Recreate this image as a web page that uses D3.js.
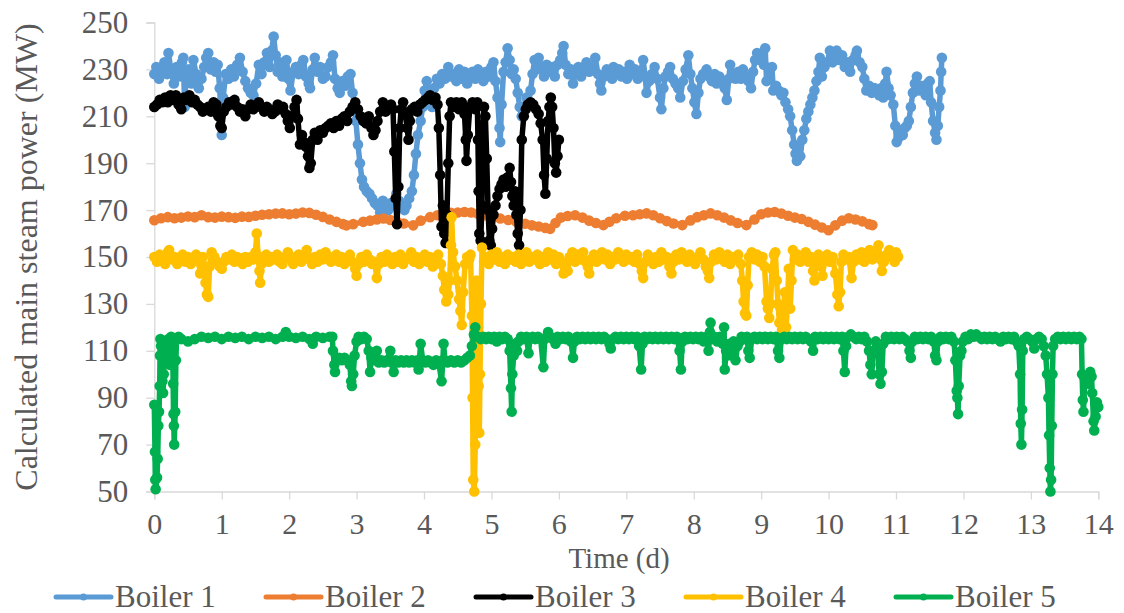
<!DOCTYPE html>
<html>
<head>
<meta charset="utf-8">
<script src="https://cdn.jsdelivr.net/npm/d3@7/dist/d3.min.js"></script>
<style>
  @font-face { font-family: "ChartSerif"; src: local("Liberation Serif"), local("LiberationSerif"), local("Liberation Serif Regular"), local("LiberationSerif-Regular"); }
</style>
</head>
<body style="margin:0;background:#fff">
<svg id="chart" width="1124" height="613"></svg>
<script>
// tick labels
const xTicks = [0, 1, 2, 3, 4, 5, 6, 7, 8, 9, 10, 11, 12, 13, 14];
const yTicks = [50, 70, 90, 110, 130, 150, 170, 190, 210, 230, 250];
const seriesNames = ['Boiler 1', 'Boiler 2', 'Boiler 3', 'Boiler 4', 'Boiler 5'];

// [time (d), power (MW)]
const boiler1 = [[0,228],[0.03,231],[0.07,226],[0.11,230],[0.15,233],[0.19,228],[0.21,237],[0.25,229],[0.29,224],[0.33,231],[0.37,227],[0.41,233],[0.43,235],[0.45,214],[0.47,226],[0.51,230],[0.55,224],[0.58,234],[0.62,228],[0.66,222],[0.70,226],[0.74,231],[0.77,235],[0.80,237],[0.84,230],[0.88,233],[0.91,229],[0.94,232],[0.97,222],[1.0,202],[1.02,218],[1.06,228],[1.10,226],[1.14,230],[1.18,227],[1.23,232],[1.27,235],[1.31,229],[1.35,225],[1.39,222],[1.43,220],[1.47,219],[1.51,224],[1.55,232],[1.59,228],[1.63,233],[1.67,237],[1.71,231],[1.74,238],[1.77,244],[1.80,236],[1.83,229],[1.86,233],[1.90,227],[1.93,231],[1.96,234],[1.99,226],[2.02,221],[2.06,229],[2.10,231],[2.14,228],[2.18,232],[2.21,234],[2.25,227],[2.29,224],[2.31,222],[2.35,230],[2.38,235],[2.42,229],[2.46,231],[2.50,226],[2.54,227],[2.58,231],[2.62,233],[2.65,236],[2.68,226],[2.72,222],[2.75,220],[2.79,225],[2.83,223],[2.87,227],[2.91,228],[2.94,220],[2.97,215],[2.99,208],[3.02,198],[3.05,190],[3.08,183],[3.11,180],[3.15,178],[3.19,177],[3.23,175],[3.27,173],[3.31,172],[3.35,169],[3.39,174],[3.43,171],[3.47,170],[3.51,173],[3.55,172],[3.59,177],[3.63,174],[3.67,172],[3.71,170],[3.74,172],[3.78,175],[3.82,178],[3.85,185],[3.88,194],[3.91,202],[3.95,208],[3.98,214],[4.01,221],[4.04,225],[4.08,219],[4.12,214],[4.15,222],[4.19,226],[4.23,224],[4.27,228],[4.31,226],[4.36,231],[4.40,227],[4.44,228],[4.48,225],[4.52,230],[4.56,226],[4.60,229],[4.64,224],[4.68,228],[4.72,229],[4.76,226],[4.80,230],[4.84,227],[4.88,225],[4.92,229],[4.96,227],[5.00,231],[5.03,233],[5.06,225],[5.09,218],[5.12,205],[5.13,199],[5.15,215],[5.18,229],[5.21,233],[5.24,239],[5.27,234],[5.30,228],[5.33,230],[5.36,226],[5.39,220],[5.42,214],[5.45,210],[5.48,214],[5.52,218],[5.55,216],[5.58,221],[5.61,228],[5.64,234],[5.67,230],[5.70,235],[5.74,231],[5.78,227],[5.82,232],[5.86,229],[5.90,231],[5.94,227],[5.98,232],[6.02,234],[6.05,237],[6.07,240],[6.10,232],[6.14,228],[6.18,230],[6.21,224],[6.25,229],[6.29,231],[6.33,227],[6.37,230],[6.41,233],[6.45,229],[6.50,231],[6.54,235],[6.58,228],[6.61,224],[6.63,221],[6.67,227],[6.71,230],[6.75,228],[6.79,226],[6.81,231],[6.85,228],[6.89,230],[6.93,227],[6.97,229],[7.01,226],[7.05,232],[7.09,228],[7.13,230],[7.17,226],[7.21,229],[7.25,234],[7.28,227],[7.30,220],[7.34,225],[7.38,228],[7.42,231],[7.46,226],[7.50,218],[7.52,213],[7.55,222],[7.58,227],[7.62,229],[7.65,231],[7.69,226],[7.73,224],[7.77,222],[7.80,218],[7.84,225],[7.88,230],[7.92,236],[7.95,228],[7.98,222],[8.01,216],[8.04,211],[8.07,220],[8.10,226],[8.14,228],[8.19,230],[8.23,227],[8.27,225],[8.31,228],[8.34,224],[8.38,227],[8.42,225],[8.46,222],[8.49,217],[8.52,226],[8.54,232],[8.58,228],[8.62,226],[8.66,229],[8.70,226],[8.73,230],[8.77,227],[8.81,225],[8.85,222],[8.88,229],[8.91,234],[8.94,237],[8.98,234],[9.01,236],[9.04,232],[9.06,239],[9.08,225],[9.12,229],[9.16,231],[9.18,221],[9.22,223],[9.26,221],[9.30,219],[9.33,220],[9.36,216],[9.40,213],[9.43,210],[9.46,204],[9.49,198],[9.51,194],[9.53,191],[9.55,196],[9.58,193],[9.61,200],[9.64,204],[9.67,209],[9.70,212],[9.73,215],[9.76,218],[9.79,221],[9.82,225],[9.85,229],[9.87,235],[9.90,227],[9.94,231],[9.98,233],[10.02,238],[10.06,233],[10.10,236],[10.12,238],[10.16,234],[10.20,236],[10.24,231],[10.28,233],[10.32,229],[10.36,234],[10.40,236],[10.42,238],[10.46,233],[10.50,231],[10.53,226],[10.56,221],[10.60,223],[10.64,220],[10.68,222],[10.71,221],[10.75,219],[10.78,222],[10.81,218],[10.84,224],[10.86,229],[10.89,222],[10.92,219],[10.96,215],[10.99,206],[11.01,199],[11.04,201],[11.06,203],[11.10,202],[11.13,205],[11.16,206],[11.19,208],[11.22,214],[11.25,220],[11.28,224],[11.31,227],[11.34,221],[11.37,223],[11.40,222],[11.44,219],[11.47,224],[11.50,225],[11.52,216],[11.55,208],[11.58,203],[11.60,200],[11.62,206],[11.64,214],[11.66,221],[11.67,229],[11.68,235]];

const boiler2 = [[0,165.7],[0.1,166.5],[0.2,167],[0.3,166.5],[0.4,166.8],[0.5,167.3],[0.6,167],[0.7,167.8],[0.8,167],[0.9,166.8],[1.0,167.2],[1.1,167],[1.2,166.7],[1.3,167.2],[1.4,167.1],[1.5,167.6],[1.6,168],[1.7,168.2],[1.8,168.5],[1.9,168.6],[2.0,168.2],[2.1,168.5],[2.2,169],[2.3,168.8],[2.4,168],[2.5,167.1],[2.6,166],[2.7,165],[2.8,164],[2.85,163.5],[2.95,164],[3.1,165],[3.2,165.5],[3.3,166],[3.4,166.4],[3.5,165.8],[3.6,165],[3.7,164.3],[3.84,163.5],[3.95,165.5],[4.09,167],[4.2,167.8],[4.3,168.5],[4.4,168.8],[4.5,169],[4.6,169.2],[4.7,169],[4.8,168.4],[4.9,167.8],[5.0,167.2],[5.13,166.4],[5.25,165.8],[5.37,165],[5.5,164.2],[5.6,163.5],[5.7,163],[5.8,162.4],[5.87,162],[5.95,164.5],[6.03,166.8],[6.13,167.5],[6.24,167.8],[6.35,166.8],[6.45,165.5],[6.55,164.5],[6.66,163.6],[6.75,165],[6.85,166.5],[6.98,167.6],[7.1,167.8],[7.2,168.2],[7.30,168.6],[7.4,167.8],[7.5,166.5],[7.6,165.3],[7.7,164.3],[7.83,163.6],[7.95,165.6],[8.05,167],[8.15,167.8],[8.25,168.6],[8.35,167.8],[8.45,166.8],[8.55,165.6],[8.65,164.5],[8.78,163.6],[8.9,166],[9.0,168.2],[9.1,169],[9.2,169.2],[9.3,168.5],[9.4,167.6],[9.5,166.8],[9.6,166.2],[9.7,165],[9.8,163.8],[9.9,162.6],[10.0,161.4],[10.1,163.5],[10.2,165.5],[10.3,166.5],[10.4,166],[10.5,165.2],[10.6,164],[10.65,163.6]];

const boiler3 = [[0,214],[0.04,215],[0.08,217],[0.12,216],[0.16,218],[0.20,216],[0.24,219],[0.28,217],[0.32,219],[0.36,215],[0.40,213],[0.44,218],[0.48,217],[0.52,219],[0.56,216],[0.60,217],[0.64,215],[0.68,214],[0.72,212],[0.76,213],[0.80,214],[0.84,212],[0.88,216],[0.92,215],[0.95,210],[0.98,206],[1.00,205],[1.03,212],[1.07,214],[1.11,216],[1.15,215],[1.19,217],[1.23,214],[1.27,212],[1.31,213],[1.35,210],[1.39,213],[1.43,215],[1.47,213],[1.51,214],[1.55,216],[1.59,214],[1.63,212],[1.67,214],[1.71,213],[1.75,211],[1.79,212],[1.83,215],[1.87,213],[1.91,214],[1.95,211],[1.98,208],[2.01,205],[2.04,210],[2.08,214],[2.11,217],[2.13,209],[2.16,198],[2.19,202],[2.22,199],[2.25,197],[2.28,193],[2.30,188],[2.32,190],[2.35,200],[2.38,203],[2.42,200],[2.46,204],[2.50,203],[2.54,205],[2.58,206],[2.62,207],[2.66,205],[2.70,208],[2.74,206],[2.78,209],[2.82,210],[2.86,208],[2.90,212],[2.94,214],[2.98,216],[3.02,213],[3.06,210],[3.10,208],[3.14,207],[3.18,210],[3.22,205],[3.25,202],[3.28,204],[3.31,208],[3.35,212],[3.39,216],[3.43,212],[3.47,214],[3.51,215],[3.54,213],[3.56,195],[3.58,175],[3.60,164],[3.62,180],[3.64,205],[3.66,213],[3.69,216],[3.72,211],[3.75,205],[3.77,200],[3.79,208],[3.82,213],[3.86,214],[3.90,212],[3.94,215],[3.98,216],[4.02,217],[4.06,218],[4.09,219],[4.13,217],[4.17,218],[4.20,215],[4.22,205],[4.24,185],[4.26,163],[4.28,172],[4.30,160],[4.32,156],[4.34,168],[4.36,190],[4.38,210],[4.40,216],[4.44,214],[4.48,216],[4.52,213],[4.56,216],[4.60,211],[4.62,200],[4.63,191],[4.65,202],[4.68,214],[4.72,216],[4.76,213],[4.79,216],[4.80,200],[4.81,178],[4.82,160],[4.84,157],[4.86,172],[4.87,205],[4.89,214],[4.91,210],[4.93,192],[4.95,170],[4.97,157],[4.99,155],[5.01,162],[5.03,168],[5.06,172],[5.09,176],[5.12,179],[5.15,181],[5.18,183],[5.21,180],[5.24,184],[5.27,188],[5.29,182],[5.31,176],[5.33,172],[5.35,178],[5.37,168],[5.39,160],[5.41,155],[5.43,170],[5.45,200],[5.48,210],[5.51,213],[5.54,215],[5.58,216],[5.62,215],[5.66,213],[5.70,211],[5.73,207],[5.76,200],[5.78,185],[5.80,177],[5.82,192],[5.84,208],[5.86,214],[5.88,218],[5.90,214],[5.92,205],[5.94,190],[5.96,186],[5.98,193],[6.00,200]];

const boiler4 = [[0,150],[0.04,148],[0.08,151],[0.12,149],[0.16,147],[0.20,152],[0.22,153],[0.26,149],[0.30,150],[0.34,147],[0.38,149],[0.42,151],[0.46,148],[0.50,150],[0.54,147],[0.58,149],[0.62,151],[0.66,148],[0.68,143],[0.70,147],[0.72,150],[0.74,146],[0.76,139],[0.78,134],[0.80,133],[0.82,146],[0.85,152],[0.89,150],[0.93,148],[0.97,146],[1.00,145],[1.03,148],[1.07,150],[1.11,149],[1.15,151],[1.19,148],[1.23,150],[1.27,149],[1.31,147],[1.35,150],[1.39,148],[1.43,150],[1.47,149],[1.50,152],[1.52,160],[1.54,150],[1.56,144],[1.57,139],[1.59,147],[1.62,150],[1.66,151],[1.70,148],[1.74,150],[1.78,149],[1.82,151],[1.86,148],[1.90,147],[1.94,150],[1.98,152],[2.02,149],[2.06,147],[2.10,150],[2.14,151],[2.18,148],[2.22,150],[2.26,153],[2.30,149],[2.34,147],[2.38,150],[2.42,148],[2.46,151],[2.50,149],[2.54,152],[2.58,150],[2.62,148],[2.66,150],[2.70,151],[2.74,148],[2.78,150],[2.82,147],[2.86,149],[2.90,151],[2.94,148],[2.98,145],[3.00,142],[3.03,147],[3.07,150],[3.11,148],[3.15,151],[3.19,149],[3.23,147],[3.27,148],[3.30,141],[3.33,147],[3.37,150],[3.41,148],[3.45,151],[3.49,149],[3.53,147],[3.57,150],[3.61,148],[3.65,151],[3.69,147],[3.73,149],[3.77,150],[3.81,152],[3.85,148],[3.89,150],[3.93,147],[3.97,149],[4.01,151],[4.05,148],[4.09,150],[4.13,146],[4.17,149],[4.21,151],[4.25,147],[4.28,142],[4.30,136],[4.33,131],[4.36,134],[4.38,140],[4.40,155],[4.41,167],[4.43,152],[4.46,146],[4.49,140],[4.52,132],[4.54,127],[4.56,121],[4.58,135],[4.61,147],[4.64,150],[4.67,149],[4.69,151],[4.71,125],[4.72,90],[4.73,55],[4.745,50],[4.76,70],[4.77,110],[4.78,140],[4.80,120],[4.81,95],[4.82,75],[4.83,100],[4.845,130],[4.86,154],[4.89,148],[4.92,150],[4.96,147],[5.00,151],[5.04,149],[5.08,152],[5.12,148],[5.16,150],[5.20,147],[5.24,151],[5.28,149],[5.32,150],[5.36,148],[5.40,151],[5.44,147],[5.48,150],[5.52,152],[5.56,148],[5.60,150],[5.64,149],[5.68,151],[5.72,147],[5.76,150],[5.80,148],[5.84,152],[5.88,149],[5.92,151],[5.96,147],[6.00,150],[6.04,148],[6.07,143],[6.10,146],[6.13,144],[6.16,150],[6.20,152],[6.24,148],[6.28,151],[6.32,149],[6.36,152],[6.40,148],[6.43,146],[6.45,143],[6.48,149],[6.52,151],[6.56,148],[6.60,150],[6.64,152],[6.68,149],[6.72,151],[6.76,147],[6.80,150],[6.84,149],[6.88,152],[6.92,150],[6.96,148],[7.00,151],[7.04,149],[7.08,150],[7.12,148],[7.16,151],[7.20,147],[7.23,144],[7.25,141],[7.28,148],[7.32,151],[7.36,149],[7.40,147],[7.44,150],[7.48,148],[7.52,152],[7.56,149],[7.60,150],[7.64,146],[7.67,143],[7.70,148],[7.74,151],[7.78,149],[7.82,152],[7.86,150],[7.90,148],[7.94,151],[7.98,149],[8.02,147],[8.06,150],[8.10,152],[8.14,149],[8.18,146],[8.21,144],[8.23,141],[8.26,148],[8.30,151],[8.34,149],[8.38,152],[8.42,150],[8.46,148],[8.50,151],[8.54,147],[8.58,150],[8.62,149],[8.66,151],[8.70,147],[8.72,140],[8.74,131],[8.76,126],[8.78,125],[8.80,138],[8.82,150],[8.86,152],[8.90,149],[8.94,151],[8.98,148],[9.02,150],[9.05,146],[9.08,131],[9.10,128],[9.12,124],[9.14,130],[9.16,145],[9.19,151],[9.21,152],[9.23,140],[9.25,130],[9.27,122],[9.29,128],[9.31,119],[9.33,125],[9.35,135],[9.37,120],[9.39,130],[9.41,145],[9.43,128],[9.45,140],[9.47,153],[9.50,149],[9.54,151],[9.58,148],[9.62,150],[9.66,152],[9.70,148],[9.74,150],[9.77,144],[9.79,140],[9.81,148],[9.85,151],[9.89,146],[9.91,142],[9.94,149],[9.98,151],[10.02,148],[10.06,150],[10.10,143],[10.13,134],[10.15,129],[10.17,135],[10.19,148],[10.22,151],[10.26,149],[10.30,150],[10.34,141],[10.37,148],[10.41,151],[10.45,149],[10.49,152],[10.53,148],[10.57,150],[10.61,153],[10.65,149],[10.69,151],[10.72,150],[10.74,155],[10.77,149],[10.79,144],[10.82,148],[10.86,151],[10.90,153],[10.94,150],[10.98,148],[11.00,152],[11.03,150]];

const boiler5 = [[0,87],[0.01,67],[0.015,55],[0.02,51],[0.04,56],[0.05,64],[0.06,78],[0.07,84],[0.08,95],[0.085,108],[0.09,115],[0.10,112],[0.11,108],[0.12,97],[0.13,92],[0.14,100],[0.15,110],[0.17,114],[0.19,111],[0.21,115],[0.23,104],[0.24,110],[0.25,116],[0.27,113],[0.28,96],[0.285,83],[0.29,78],[0.295,70],[0.31,84],[0.32,106],[0.33,115],[0.36,116],[0.4,115],[0.5,114],[0.6,115],[0.7,116],[0.8,115.5],[0.9,116],[1.0,115],[1.1,116],[1.2,115.5],[1.3,116],[1.4,115],[1.5,116],[1.6,115.5],[1.7,116],[1.8,115],[1.9,116],[1.95,118],[2.0,116],[2.1,115.5],[2.2,116],[2.3,115],[2.35,113],[2.4,116],[2.5,115.5],[2.6,116],[2.64,116],[2.65,110],[2.67,104],[2.68,101],[2.70,106],[2.74,107],[2.78,106],[2.82,107],[2.86,106],[2.90,104],[2.92,97],[2.93,95],[2.95,100],[2.97,108],[3.00,114],[3.03,116],[3.07,115],[3.11,116],[3.15,115],[3.18,110],[3.20,101],[3.22,107],[3.26,106],[3.30,110],[3.33,105],[3.37,106],[3.41,105],[3.45,106],[3.50,110],[3.52,105],[3.55,101],[3.58,106],[3.62,105],[3.66,106],[3.70,105],[3.74,106],[3.78,105],[3.82,106],[3.86,105],[3.90,106],[3.92,102],[3.95,113],[3.98,106],[4.02,105],[4.06,106],[4.10,105],[4.14,104],[4.18,106],[4.22,105],[4.26,97],[4.28,106],[4.29,113],[4.31,106],[4.35,105],[4.40,106],[4.45,105],[4.50,106],[4.55,105],[4.60,106],[4.64,107],[4.68,108],[4.71,112],[4.74,117],[4.76,120],[4.78,116],[4.80,116],[4.84,115],[4.88,116],[4.92,115],[4.96,116],[5.00,115],[5.04,116],[5.08,114],[5.12,116],[5.16,115],[5.20,116],[5.24,115],[5.27,110],[5.29,94],[5.30,84],[5.31,100],[5.33,108],[5.35,113],[5.38,110],[5.40,114],[5.44,116],[5.48,115],[5.52,116],[5.55,109],[5.57,115],[5.61,116],[5.65,115],[5.69,116],[5.73,115],[5.77,103],[5.79,115],[5.82,116],[5.84,118],[5.87,116],[5.91,115],[5.95,113],[5.98,116],[6.02,115],[6.06,116],[6.10,115],[6.14,116],[6.18,114],[6.21,107],[6.23,114],[6.27,116],[6.31,115],[6.35,116],[6.39,115],[6.43,116],[6.47,115],[6.51,116],[6.55,115],[6.59,116],[6.63,115],[6.67,116],[6.71,115],[6.75,113],[6.77,111],[6.80,115],[6.84,116],[6.88,115],[6.92,116],[6.96,115],[7.00,116],[7.04,115],[7.08,116],[7.12,115],[7.16,116],[7.19,112],[7.22,102],[7.24,113],[7.27,116],[7.31,115],[7.35,116],[7.39,115],[7.43,116],[7.47,115],[7.51,116],[7.55,115],[7.59,116],[7.63,115],[7.67,116],[7.71,115],[7.75,116],[7.79,110],[7.81,102],[7.83,114],[7.87,116],[7.91,115],[7.95,116],[7.99,115],[8.03,116],[8.07,115],[8.11,116],[8.15,114],[8.19,116],[8.22,110],[8.24,118],[8.25,122],[8.27,115],[8.31,116],[8.35,114],[8.39,116],[8.43,113],[8.45,120],[8.46,102],[8.48,110],[8.50,108],[8.53,113],[8.56,109],[8.59,114],[8.62,106],[8.65,112],[8.68,114],[8.71,116],[8.75,115],[8.79,116],[8.81,110],[8.83,107],[8.86,115],[8.90,116],[8.94,115],[8.98,116],[9.02,115],[9.06,116],[9.10,115],[9.14,116],[9.18,115],[9.22,116],[9.25,110],[9.27,107],[9.30,115],[9.34,116],[9.38,115],[9.42,116],[9.46,115],[9.50,116],[9.54,115],[9.58,116],[9.62,115],[9.66,116],[9.70,115],[9.74,114],[9.77,110],[9.80,116],[9.84,115],[9.88,116],[9.92,115],[9.96,116],[10.00,115],[10.04,116],[10.08,115],[10.12,116],[10.16,115],[10.20,116],[10.22,110],[10.24,101],[10.26,112],[10.29,116],[10.33,117],[10.37,116],[10.41,115],[10.45,116],[10.49,115],[10.53,116],[10.57,114],[10.60,110],[10.62,104],[10.64,100],[10.66,110],[10.70,114],[10.73,110],[10.75,100],[10.77,96],[10.79,101],[10.81,113],[10.85,116],[10.89,115],[10.93,116],[10.97,115],[11.01,116],[11.05,115],[11.09,116],[11.13,115],[11.17,114],[11.20,110],[11.22,107],[11.24,114],[11.28,116],[11.32,115],[11.36,116],[11.40,115],[11.44,116],[11.48,115],[11.52,116],[11.56,114],[11.58,108],[11.60,106],[11.62,114],[11.66,116],[11.70,115],[11.74,116],[11.78,115],[11.82,116],[11.86,114],[11.88,106],[11.90,93],[11.91,90],[11.92,83],[11.93,95],[11.95,108],[11.97,110],[11.99,114],[12.03,116],[12.07,115],[12.11,117],[12.15,116],[12.19,117],[12.23,116],[12.27,115],[12.31,116],[12.35,115],[12.39,116],[12.43,115],[12.47,116],[12.51,115],[12.55,114],[12.59,116],[12.63,115],[12.67,116],[12.71,115],[12.75,116],[12.79,114],[12.82,112],[12.84,100],[12.85,79],[12.86,70],[12.87,85],[12.88,110],[12.90,115],[12.94,116],[12.98,115],[13.02,114],[13.05,111],[13.08,115],[13.12,116],[13.16,115],[13.19,112],[13.22,108],[13.24,100],[13.26,90],[13.27,74],[13.28,60],[13.29,50],[13.30,55],[13.31,78],[13.32,100],[13.33,112],[13.36,115],[13.40,116],[13.44,115],[13.48,116],[13.52,115],[13.56,116],[13.60,115],[13.64,116],[13.68,115],[13.72,116],[13.75,115],[13.76,100],[13.77,89],[13.78,84],[13.80,98],[13.82,99],[13.84,98],[13.86,96],[13.88,101],[13.90,99],[13.91,92],[13.93,80],[13.94,76],[13.96,82],[13.98,88],[14.00,86]];

const seriesData = [boiler1, boiler2, boiler3, boiler4, boiler5];
const seriesColors = ['#5B9BD5', '#ED7D31', '#000000', '#FFC000', '#00B050'];

const svg = d3.select('#chart');
const axisColor = '#D9D9D9';
const textColor = '#595959';
const serif = '"Liberation Serif", ChartSerif, Tinos, "Times New Roman", serif';

// plot area
const x = d3.scaleLinear().domain([0, 14]).range([154.3, 1098.3]);
const y = d3.scaleLinear().domain([50, 250]).range([491.5, 22.5]);

// axis titles
svg.append('text')
  .attr('transform', `translate(37,${(y(50) + y(250)) / 2}) rotate(-90)`)
  .attr('text-anchor', 'middle')
  .attr('font-family', serif)
  .attr('font-size', 32)
  .attr('fill', textColor)
  .text('Calculated main steam power (MW)');

svg.append('text')
  .attr('x', 619)
  .attr('y', 568)
  .attr('text-anchor', 'middle')
  .attr('font-family', serif)
  .attr('font-size', 29)
  .attr('fill', textColor)
  .text('Time (d)');

// y axis
const yAxis = svg.append('g')
  .attr('transform', `translate(${x(0)},0)`)
  .call(d3.axisLeft(y).tickValues(yTicks).tickSize(8).tickPadding(18).tickFormat(d3.format('d')));
yAxis.attr('font-family', serif).attr('font-size', 31);
yAxis.select('.domain').attr('stroke', axisColor).attr('stroke-width', 1.3);
yAxis.selectAll('.tick line').attr('stroke', axisColor).attr('stroke-width', 1.3);
yAxis.selectAll('.tick text').attr('fill', textColor).attr('font-family', serif);

// x axis
const xAxis = svg.append('g')
  .attr('transform', `translate(0,${y(50)})`)
  .call(d3.axisBottom(x).tickValues(xTicks).tickSize(8).tickPadding(13).tickFormat(d3.format('d')));
xAxis.attr('font-family', serif).attr('font-size', 30);
xAxis.select('.domain').attr('stroke', axisColor).attr('stroke-width', 1.3);
xAxis.selectAll('.tick line').attr('stroke', axisColor).attr('stroke-width', 1.3);
xAxis.selectAll('.tick text').attr('fill', textColor).attr('font-family', serif);

// legend
const legend = svg.append('g').attr('transform', 'translate(56,597)');
seriesNames.forEach((name, i) => {
  const item = legend.append('g').attr('transform', `translate(${i * 210},0)`);
  item.append('line')
    .attr('x1', 0).attr('x2', 55)
    .attr('stroke', seriesColors[i])
    .attr('stroke-width', 5)
    .attr('stroke-linecap', 'round');
  item.append('circle')
    .attr('cx', 27.5).attr('r', 3.5)
    .attr('fill', seriesColors[i]);
  item.append('text')
    .attr('x', 59)
    .attr('y', 10)
    .attr('font-family', serif)
    .attr('font-size', 31)
    .attr('fill', textColor)
    .text(name);
});

// series: line + round markers, drawn in order so Boiler 5 is on top
const line = d3.line().x(d => x(d[0])).y(d => y(d[1]));

seriesData.forEach((data, i) => {
  const g = svg.append('g').attr('class', 'series');
  g.append('path')
    .datum(data)
    .attr('d', line)
    .attr('fill', 'none')
    .attr('stroke', seriesColors[i])
    .attr('stroke-width', 5.5)
    .attr('stroke-linejoin', 'round')
    .attr('stroke-linecap', 'round');
  g.selectAll('circle')
    .data(data)
    .enter().append('circle')
    .attr('cx', d => x(d[0]))
    .attr('cy', d => y(d[1]))
    .attr('r', 5.3)
    .attr('fill', seriesColors[i]);
});
</script>
</body>
</html>
